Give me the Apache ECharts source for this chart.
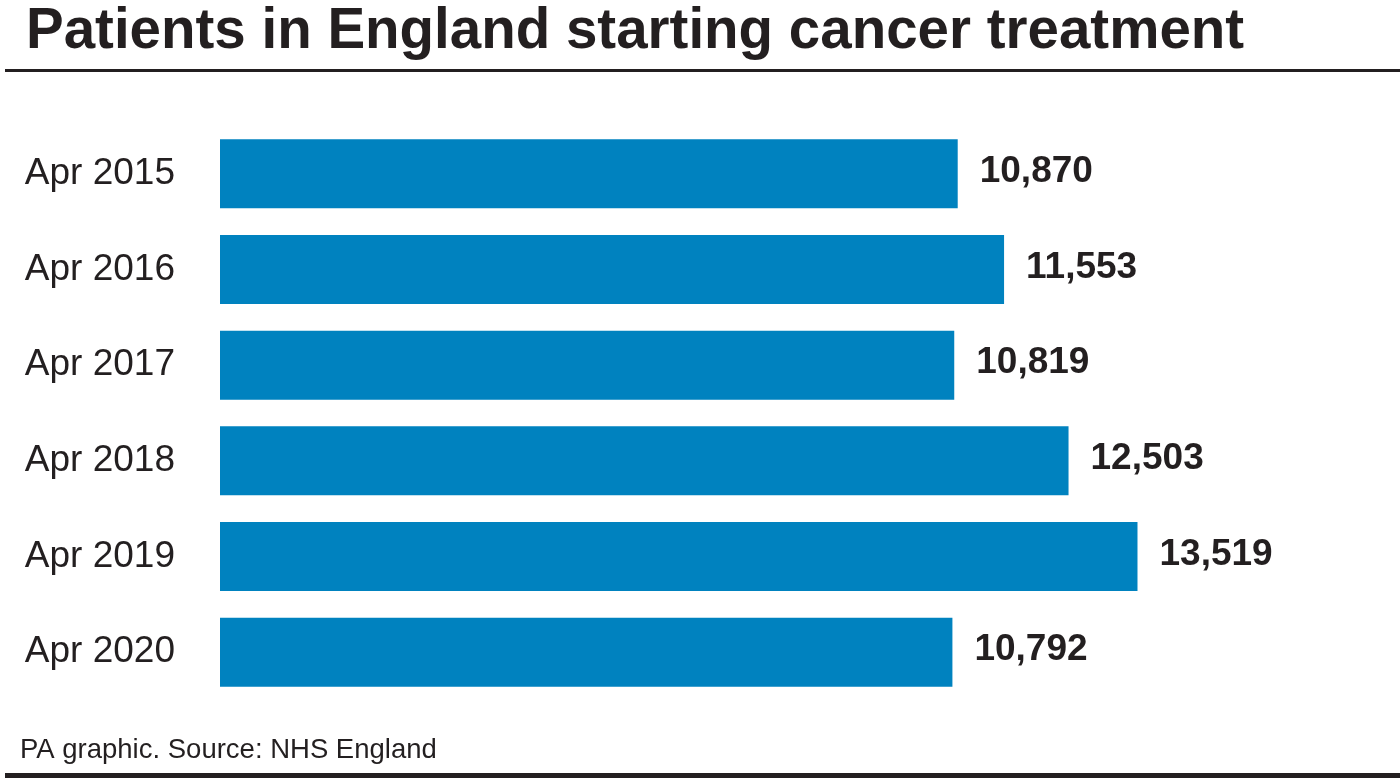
<!DOCTYPE html>
<html>
<head>
<meta charset="utf-8">
<script src="https://cdn.jsdelivr.net/npm/echarts@6/dist/echarts.min.js"></script>
<style>html,body{margin:0;padding:0;background:#fff}#c{width:1400px;height:778px}</style>
</head>
<body>
<div id="c"></div>
<script>
const categories = ['Apr 2015','Apr 2016','Apr 2017','Apr 2018','Apr 2019','Apr 2020'];
const values = [10870, 11553, 10819, 12503, 13519, 10792];
const titleText = 'Patients in England starting cancer treatment';
const sourceText = 'PA graphic. Source: NHS England';

const chart = echarts.init(document.getElementById('c'));
const ink = '#231f20';
chart.setOption({
  backgroundColor: '#fff',
  animation: false,
  title: {
    text: titleText,
    left: 21, top: -1,
    textStyle: {fontFamily: 'Liberation Sans', fontWeight: 'bold', fontSize: 56.5, color: ink}
  },
  grid: {left: 220, top: 126, bottom: 78, right: 162, containLabel: false},
  xAxis: {type: 'value', min: 0, max: 15000, show: false},
  yAxis: {
    type: 'category', data: categories, inverse: true,
    axisLine: {show: false}, axisTick: {show: false},
    axisLabel: {margin: 45, fontFamily: 'Liberation Sans', fontSize: 37, color: ink, lineHeight: 37, padding: [0, 0, 8, 0]}
  },
  series: [{
    type: 'bar', data: values, barWidth: 69,
    itemStyle: {color: '#0082bf'},
    label: {
      show: true, position: 'right', distance: 22, offset: [0, -2],
      fontFamily: 'Liberation Sans', fontWeight: 'bold', fontSize: 37, color: ink,
      formatter: p => p.value.toLocaleString('en-GB')
    }
  }],
  graphic: [
    {type: 'rect', shape: {x: 5, y: 69, width: 1395, height: 3}, style: {fill: ink}},
    {type: 'rect', shape: {x: 5, y: 773, width: 1395, height: 5}, style: {fill: ink}},
    {type: 'text', left: 20, top: 736, style: {text: sourceText, fontFamily: 'Liberation Sans', fontSize: 27.5, fill: ink}}
  ]
});
</script>
</body>
</html>
